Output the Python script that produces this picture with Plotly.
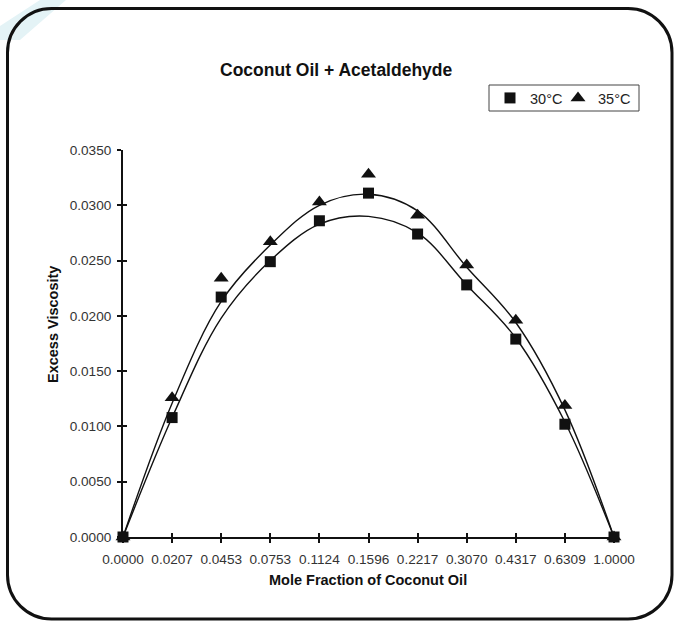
import plotly.graph_objects as go

# ---- data ----
categories = ["0.0000", "0.0207", "0.0453", "0.0753", "0.1124", "0.1596",
              "0.2217", "0.3070", "0.4317", "0.6309", "1.0000"]
visc_30 = [0, 0.0108, 0.0217, 0.0249, 0.0286, 0.0311, 0.0274, 0.0228, 0.0179, 0.0102, 0]
visc_35 = [0, 0.0126, 0.0234, 0.0267, 0.0303, 0.0328, 0.0291, 0.0246, 0.0196, 0.0119, 0]
# trend curves
trend_30 = [0, 0.0108, 0.0198, 0.0250, 0.0283, 0.0290, 0.0275, 0.0228, 0.0180, 0.0104, 0]
trend_35 = [0, 0.0121, 0.0213, 0.0264, 0.0300, 0.0310, 0.0295, 0.0244, 0.0194, 0.0115, 0]
y_ticks = [0, 0.005, 0.010, 0.015, 0.020, 0.025, 0.030, 0.035]

W, H = 675, 622
L, R, T, B = 123, 61, 150, 85
PW, PH = W - L - R, H - T - B

def px(x):
    return (x - L) / PW

def py(y):
    return (H - B - y) / PH

idx = list(range(len(categories)))
FONT = "Arial, 'Liberation Sans', sans-serif"

fig = go.Figure()
fig.add_trace(go.Scatter(x=idx, y=trend_30, mode="lines", line=dict(color="#111", width=1.4, shape="spline", smoothing=1.0),
                         showlegend=False, hoverinfo="skip", cliponaxis=False))
fig.add_trace(go.Scatter(x=idx, y=trend_35, mode="lines", line=dict(color="#111", width=1.4, shape="spline", smoothing=1.0),
                         showlegend=False, hoverinfo="skip", cliponaxis=False))
fig.add_trace(go.Scatter(x=idx, y=visc_35, mode="markers", name="35°C", legend="legend2",
                         marker=dict(symbol="triangle-up", size=13, color="#111"), cliponaxis=False))
fig.add_trace(go.Scatter(x=idx, y=visc_30, mode="markers", name="30°C", legend="legend",
                         marker=dict(symbol="square", size=11, color="#111"), cliponaxis=False))

axis_common = dict(showgrid=False, zeroline=False, linecolor="#111", linewidth=2,
                   tickcolor="#111", tickwidth=1.6, ticklen=4,
                   tickfont=dict(family=FONT, size=13.6, color="#333"))

legend_common = dict(orientation="h", yanchor="middle", y=py(98), xanchor="left",
                     bgcolor="rgba(0,0,0,0)", borderwidth=0,
                     font=dict(family=FONT, size=14.5, color="#222"))

fig.update_layout(
    width=W, height=H,
    margin=dict(l=L, r=R, t=T, b=B, autoexpand=False),
    paper_bgcolor="white", plot_bgcolor="white",
    xaxis=dict(range=[0, 10], tickvals=idx, ticktext=categories, ticks="outside",
               showline=True, ticklabelstandoff=5, **axis_common),
    yaxis=dict(range=[0, 0.035], tickvals=y_ticks, tickformat=".4f", ticks="outside",
               showline=True, ticklabelstandoff=3, **axis_common),
    xaxis2=dict(range=[0, 10], tickvals=idx, ticks="inside", showticklabels=False,
                overlaying="x", showgrid=False, zeroline=False, showline=False,
                tickcolor="#111", tickwidth=1.6, ticklen=4),
    yaxis2=dict(range=[0, 0.035], tickvals=y_ticks, ticks="inside", showticklabels=False,
                overlaying="y", showgrid=False, zeroline=False, showline=False,
                tickcolor="#111", tickwidth=1.6, ticklen=4),
    showlegend=True,
    legend=dict(x=px(490), **legend_common),
    legend2=dict(x=px(558), **legend_common),
)
# empty trace so the overlay axes (cross ticks) render
fig.add_trace(go.Scatter(x=[None], y=[None], xaxis="x2", yaxis="y2", showlegend=False, hoverinfo="skip"))

def P(x, y):
    return f"{px(x):.5f},{py(y):.5f}"

# legend frame
fig.add_shape(type="rect", xref="paper", yref="paper", x0=px(489), x1=px(639), y0=py(85), y1=py(111),
              line=dict(color="#444", width=1), layer="above")

# annotations: title and axis titles
fig.add_annotation(text="<b>Coconut Oil + Acetaldehyde</b>", xref="paper", yref="paper",
                   x=px(336), y=py(70), showarrow=False, xanchor="center", yanchor="middle",
                   font=dict(family=FONT, size=17.5, color="#111"))
fig.add_annotation(text="<b>Mole Fraction of Coconut Oil</b>", xref="paper", yref="paper",
                   x=px(368), y=py(580), showarrow=False, xanchor="center", yanchor="middle",
                   font=dict(family=FONT, size=14.5, color="#111"))
fig.add_annotation(text="<b>Excess Viscosity</b>", xref="paper", yref="paper",
                   x=px(53), y=py(325), showarrow=False, xanchor="center", yanchor="middle",
                   textangle=-90, font=dict(family=FONT, size=14.5, color="#111"))

# faint watermark stroke at top-left
fig.add_shape(type="path", path=f"M {P(40, 0)} L {P(66, 0)} L {P(20, 40)} L {P(0, 40)} L {P(0, 26)} Z",
              xref="paper", yref="paper", fillcolor="#e4f3f6", line=dict(width=0), layer="below")

# rounded outer border
x0, x1, y0, y1, r = 7.5, 672, 8.5, 619, 44
k = 0.5523 * r
path = (f"M {P(x0 + r, y0)} L {P(x1 - r, y0)} "
        f"C {P(x1 - r + k, y0)} {P(x1, y0 + r - k)} {P(x1, y0 + r)} "
        f"L {P(x1, y1 - r)} "
        f"C {P(x1, y1 - r + k)} {P(x1 - r + k, y1)} {P(x1 - r, y1)} "
        f"L {P(x0 + r, y1)} "
        f"C {P(x0 + r - k, y1)} {P(x0, y1 - r + k)} {P(x0, y1 - r)} "
        f"L {P(x0, y0 + r)} "
        f"C {P(x0, y0 + r - k)} {P(x0 + r - k, y0)} {P(x0 + r, y0)} Z")
fig.add_shape(type="path", path=path, xref="paper", yref="paper",
              line=dict(color="#111", width=3), layer="below")

fig.write_html("out.html", config={"displayModeBar": False},
               post_script="document.body.style.margin='0';document.body.style.overflow='hidden';")
